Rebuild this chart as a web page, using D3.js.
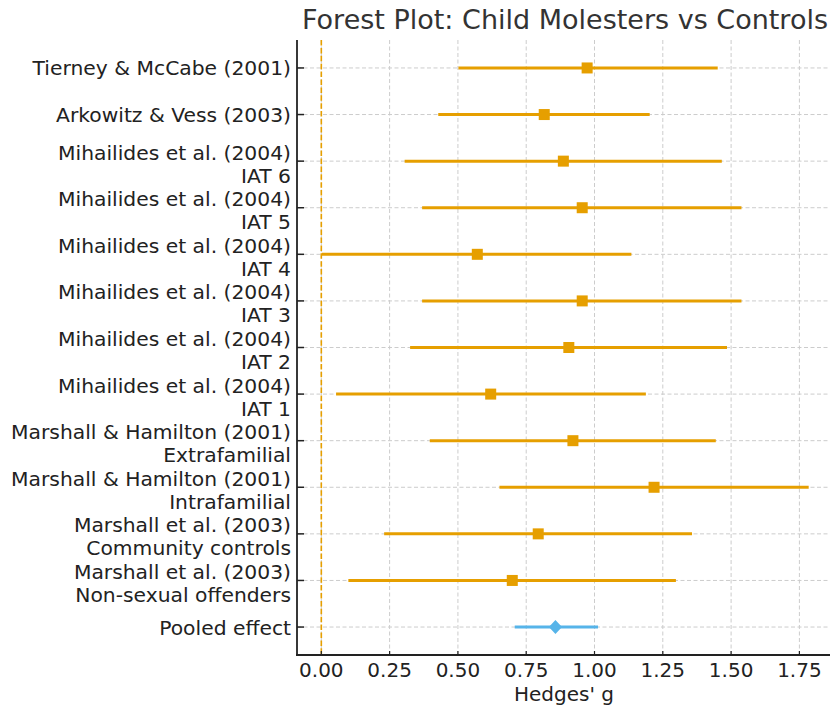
<!DOCTYPE html>
<html>
<head>
<meta charset="utf-8">
<script src="https://cdn.jsdelivr.net/npm/d3@7"></script>
<style>
  html, body { margin: 0; padding: 0; background: #fff; }
  svg { display: block; font-family: "DejaVu Sans", sans-serif; }
</style>
</head>
<body>
<svg id="chart" width="830" height="709"></svg>
<script>
// ---- data ----
const studies = [
  "Tierney & McCabe (2001)",
  "Arkowitz & Vess (2003)",
  "Mihailides et al. (2004)\nIAT 6",
  "Mihailides et al. (2004)\nIAT 5",
  "Mihailides et al. (2004)\nIAT 4",
  "Mihailides et al. (2004)\nIAT 3",
  "Mihailides et al. (2004)\nIAT 2",
  "Mihailides et al. (2004)\nIAT 1",
  "Marshall & Hamilton (2001)\nExtrafamilial",
  "Marshall & Hamilton (2001)\nIntrafamilial",
  "Marshall et al. (2003)\nCommunity controls",
  "Marshall et al. (2003)\nNon-sexual offenders"
];
const effect = [0.973, 0.816, 0.886, 0.955, 0.571, 0.955, 0.906, 0.620, 0.921, 1.218, 0.794, 0.699];
const ciLow  = [0.502, 0.428, 0.305, 0.369, 0.002, 0.369, 0.325, 0.054, 0.397, 0.652, 0.230, 0.099];
const ciHigh = [1.451, 1.202, 1.466, 1.538, 1.135, 1.538, 1.485, 1.188, 1.444, 1.784, 1.357, 1.298];
const pooledLabel = "Pooled effect";
const pooledEffect = 0.857;
const pooledLow = 0.708;
const pooledHigh = 1.013;
const xTicks = [0, 0.25, 0.5, 0.75, 1.0, 1.25, 1.5, 1.75];
const title = "Forest Plot: Child Molesters vs Controls";
const xLabel = "Hedges' g";

// ---- layout ----
const svg = d3.select("#chart");
const L = 297, R = 833, T = 40, B = 655;
const orange = "#E69F00", blue = "#56B4E9";

const labels = studies.concat([pooledLabel]);
const x = d3.scaleLinear().domain([-0.089, 1.873]).range([L, R]);
const y = d3.scaleLinear().domain([-0.6, labels.length - 1 + 0.6]).range([T, B]);

// grid
const grid = svg.append("g");
grid.selectAll("line.vx").data(xTicks).join("line")
  .attr("x1", d => x(d)).attr("x2", d => x(d))
  .attr("y1", T).attr("y2", B)
  .attr("stroke", "#cccccc").attr("stroke-width", 1).attr("stroke-dasharray", "4,2.5");
grid.selectAll("line.hy").data(labels).join("line")
  .attr("x1", L).attr("x2", R)
  .attr("y1", (d, i) => y(i)).attr("y2", (d, i) => y(i))
  .attr("stroke", "#cccccc").attr("stroke-width", 1).attr("stroke-dasharray", "4,2.5");

// zero reference line
svg.append("line")
  .attr("x1", x(0)).attr("x2", x(0)).attr("y1", T).attr("y2", B)
  .attr("stroke", orange).attr("stroke-width", 1.6).attr("stroke-dasharray", "5.5,2.4");

// study CIs
const g = svg.append("g");
g.selectAll("line.ci").data(effect).join("line")
  .attr("x1", (d, i) => x(ciLow[i])).attr("x2", (d, i) => x(ciHigh[i]))
  .attr("y1", (d, i) => y(i)).attr("y2", (d, i) => y(i))
  .attr("stroke", orange).attr("stroke-width", 3);
const sq = 11;
g.selectAll("rect.pt").data(effect).join("rect")
  .attr("x", d => x(d) - sq / 2).attr("y", (d, i) => y(i) - sq / 2)
  .attr("width", sq).attr("height", sq)
  .attr("fill", orange);

// pooled
const pi = labels.length - 1;
svg.append("line")
  .attr("x1", x(pooledLow)).attr("x2", x(pooledHigh))
  .attr("y1", y(pi)).attr("y2", y(pi))
  .attr("stroke", blue).attr("stroke-width", 3);
const dw = 6.6, dh = 7;
svg.append("path")
  .attr("d", `M0,${-dh}L${dw},0L0,${dh}L${-dw},0Z`)
  .attr("transform", `translate(${x(pooledEffect)},${y(pi)})`)
  .attr("fill", blue);

// spines
svg.append("line").attr("x1", L).attr("x2", L).attr("y1", T).attr("y2", B + 0.9)
  .attr("stroke", "#222").attr("stroke-width", 1.8);
svg.append("line").attr("x1", L - 0.9).attr("x2", 830).attr("y1", B).attr("y2", B)
  .attr("stroke", "#222").attr("stroke-width", 1.8);

// y ticks (inward)
svg.selectAll("line.yt").data(labels).join("line")
  .attr("x1", L).attr("x2", L + 7)
  .attr("y1", (d, i) => y(i)).attr("y2", (d, i) => y(i))
  .attr("stroke", "#222").attr("stroke-width", 1.5);
// x ticks (inward)
svg.selectAll("line.xt").data(xTicks).join("line")
  .attr("x1", d => x(d)).attr("x2", d => x(d))
  .attr("y1", B).attr("y2", B - 4)
  .attr("stroke", "#222").attr("stroke-width", 1.2);

// y labels
const yl = svg.append("g").attr("font-size", 20.3).attr("fill", "#222").attr("text-anchor", "end");
labels.forEach((lab, i) => {
  const lines = lab.split("\n");
  const t = yl.append("text").attr("x", L - 6);
  if (lines.length === 1) {
    t.append("tspan").attr("x", L - 6).attr("y", y(i) + 7.5).text(lines[0]);
  } else {
    t.append("tspan").attr("x", L - 6).attr("y", y(i) - 1.5).text(lines[0]);
    t.append("tspan").attr("x", L - 6).attr("y", y(i) + 21.5).text(lines[1]);
  }
});

// x tick labels
svg.append("g").attr("font-size", 20).attr("fill", "#222").attr("text-anchor", "middle")
  .selectAll("text").data(xTicks).join("text")
  .attr("x", d => x(d)).attr("y", 677)
  .text(d => d3.format(".2f")(d));

// x label
svg.append("text").attr("x", (L + R) / 2 - 1).attr("y", 701)
  .attr("font-size", 20).attr("fill", "#222").attr("text-anchor", "middle")
  .text(xLabel);

// title
svg.append("text").attr("x", (L + R) / 2).attr("y", 29)
  .attr("font-size", 27).attr("fill", "#333").attr("text-anchor", "middle")
  .text(title);
</script>
</body>
</html>
